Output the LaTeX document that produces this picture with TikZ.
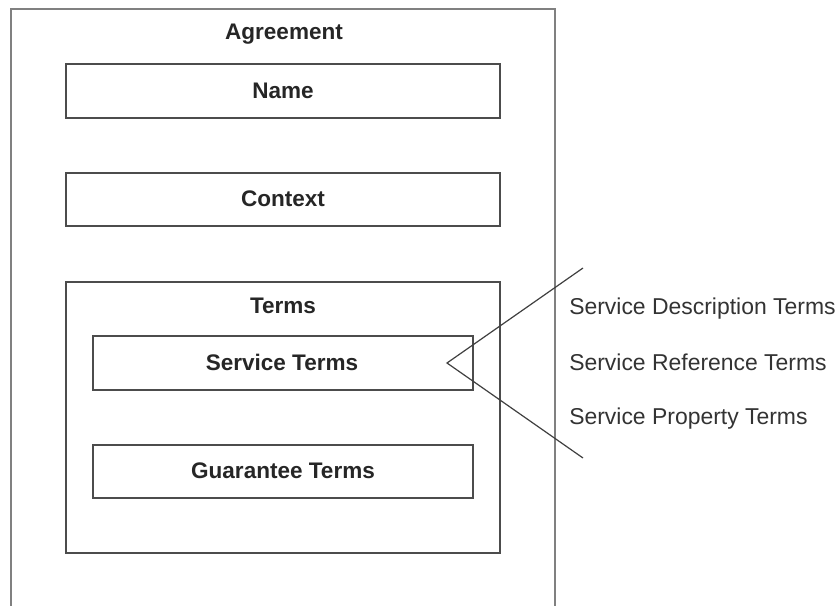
\documentclass[tikz,border=0pt]{standalone}
\usepackage{fontspec}
\setmainfont{Liberation Sans}
\begin{document}
\begin{tikzpicture}[x=0.75pt,y=-0.75pt,
  frame/.style={draw=black!70, line width=1.1pt, rectangle, inner sep=0pt},
  title/.style={font=\fontsize{16.9}{20}\selectfont\bfseries, anchor=base, inner sep=0pt, text=black!85},
  item/.style={font=\fontsize{17.2}{20}\selectfont, anchor=base west, inner sep=0pt, text=black!80},
  link/.style={draw=black!75, line width=0.9pt}]
\useasboundingbox (0,0) rectangle (840,606);
\fill[white] (0,0) rectangle (840,606);

% outer agreement frame, open towards the bottom edge
\draw[black!50, line width=1.3pt] (11,620) -- (11,9) -- (555,9) -- (555,620);
\node[title] (agreement) at (284,40) {Agreement};

% top-level parts
\node[frame, minimum width=434*0.75pt, minimum height=54*0.75pt] (name) at (283,91) {};
\node[title] at (283,99) {Name};
\node[frame, minimum width=434*0.75pt, minimum height=53*0.75pt] (context) at (283,199.5) {};
\node[title] at (283,207) {Context};

% terms block with its two sections
\node[frame, minimum width=434*0.75pt, minimum height=271*0.75pt] (terms) at (283,417.5) {};
\node[title] at (283,314) {Terms};
\node[frame, minimum width=380*0.75pt, minimum height=54*0.75pt] (service) at (283,363) {};
\node[title] at (282,370) {Service Terms};
\node[frame, minimum width=380*0.75pt, minimum height=53*0.75pt] (guarantee) at (283,471.5) {};
\node[title] at (283,478) {Guarantee Terms};

% fan-out of the service term kinds
\coordinate (apex) at (447,363);
\coordinate (fanup) at (583,268);
\coordinate (fandown) at (583,458);
\draw[link] (fanup) -- (apex) -- (fandown);
\node[item] (desc) at (569,315) {Service Description Terms};
\node[item] (ref) at (569,370) {Service Reference Terms};
\node[item] (prop) at (569,424) {Service Property Terms};
\end{tikzpicture}
\end{document}
